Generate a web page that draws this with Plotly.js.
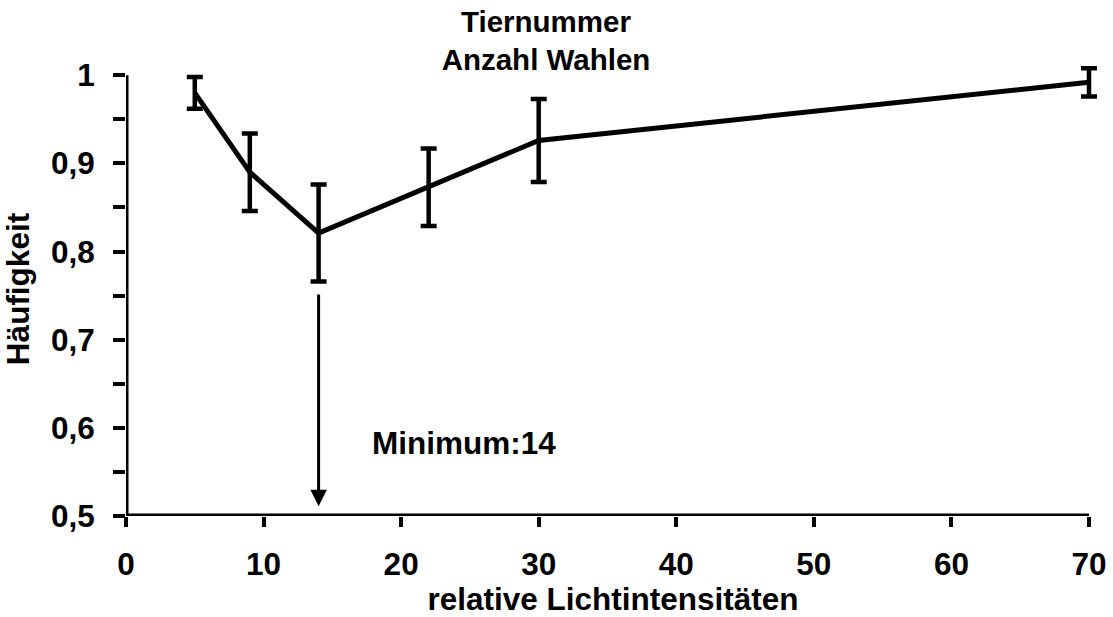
<!DOCTYPE html>
<html>
<head>
<meta charset="utf-8">
<script src="https://cdn.plot.ly/plotly-3.0.1.min.js"></script>
<style>html,body{margin:0;padding:0;background:#fff;}#chart{width:1113px;height:617px;}</style>
</head>
<body>
<div id="chart"></div>
<script>
// Data
const intensities = [5, 9, 14, 22, 30, 70];
const frequencies = [0.980, 0.890, 0.821, 0.873, 0.926, 0.992];
const errors = [0.018, 0.044, 0.055, 0.044, 0.047, 0.016];
const xTickVals = [0, 10, 20, 30, 40, 50, 60, 70];
const yTickVals = [0.5, 0.6, 0.7, 0.8, 0.9, 1];
const yTickText = ['0,5', '0,6', '0,7', '0,8', '0,9', '1'];
const xAxisSpan = [0, 70];
const yAxisSpan = [0.5, 1];
const minimumX = 14;
const arrowFrom = 0.753;
const arrowTo = 0.511;
const minimumLabel = 'Minimum:14';

const FONT = 'Liberation Sans, Arial, sans-serif';
const LBL = 31.5;

const trace = {
  type: 'scatter',
  mode: 'lines',
  x: intensities,
  y: frequencies,
  cliponaxis: false,
  line: {color: '#000', width: 5},
  error_y: {type: 'data', array: errors, visible: true, color: '#000', thickness: 4.5, width: 8},
  hoverinfo: 'x+y',
  showlegend: false
};

const layout = {
  width: 1113,
  height: 617,
  paper_bgcolor: '#fff',
  plot_bgcolor: '#fff',
  margin: {l: 126, r: 13, t: 62, b: 101},
  font: {family: FONT, color: '#000', weight: 700, size: LBL},
  title: {
    text: 'Tiernummer<br>Anzahl Wahlen',
    font: {family: FONT, size: 29.5, weight: 700, color: '#000'},
    xref: 'container', yref: 'container',
    x: 546 / 1113, xanchor: 'center',
    y: 1 - 31.5 / 617, yanchor: 'middle'
  },
  xaxis: {
    range: [0, 70.8],
    tickmode: 'array', tickvals: xTickVals,
    ticks: 'outside', ticklen: 10, tickwidth: 4, tickcolor: '#000',
    showline: false,
    showgrid: false, zeroline: false,
    tickfont: {family: FONT, size: LBL, weight: 700, color: '#000'},
    ticklabelstandoff: 10,
    title: {text: 'relative Lichtintensitäten', font: {family: FONT, size: LBL, weight: 700, color: '#000'}, standoff: 2}
  },
  yaxis: {
    range: [0.5, 1.015],
    tickmode: 'array', tickvals: yTickVals, ticktext: yTickText,
    ticks: 'outside', ticklen: 12, tickwidth: 4, tickcolor: '#000',
    minor: {tickmode: 'linear', tick0: 0.5, dtick: 0.05, ticks: 'outside', ticklen: 12, tickwidth: 4, tickcolor: '#000', showgrid: false},
    showline: false,
    showgrid: false, zeroline: false,
    tickfont: {family: FONT, size: LBL, weight: 700, color: '#000'},
    ticklabelstandoff: 12,
    title: {text: 'Häufigkeit', font: {family: FONT, size: LBL, weight: 700, color: '#000'}, standoff: 14}
  },
  shapes: [
    {type: 'line', xref: 'x', yref: 'y', x0: xAxisSpan[0], x1: xAxisSpan[0], y0: yAxisSpan[0], y1: yAxisSpan[1], line: {color: '#000', width: 5}},
    {type: 'line', xref: 'x', yref: 'y', x0: xAxisSpan[0], x1: xAxisSpan[1], y0: yAxisSpan[0], y1: yAxisSpan[0], line: {color: '#000', width: 5}}
  ],
  annotations: [
    {
      x: minimumX, y: arrowTo, xref: 'x', yref: 'y',
      ax: minimumX, ay: arrowFrom, axref: 'x', ayref: 'y',
      text: '', showarrow: true,
      arrowhead: 2, arrowsize: 1.1, arrowwidth: 3, arrowcolor: '#000'
    },
    {
      x: 24.6, y: 0.583, xref: 'x', yref: 'y',
      text: minimumLabel, showarrow: false,
      xanchor: 'center', yanchor: 'middle',
      font: {family: FONT, size: LBL, weight: 700, color: '#000'}
    }
  ]
};

Plotly.newPlot('chart', [trace], layout, {displayModeBar: false, staticPlot: true});
</script>
</body>
</html>
